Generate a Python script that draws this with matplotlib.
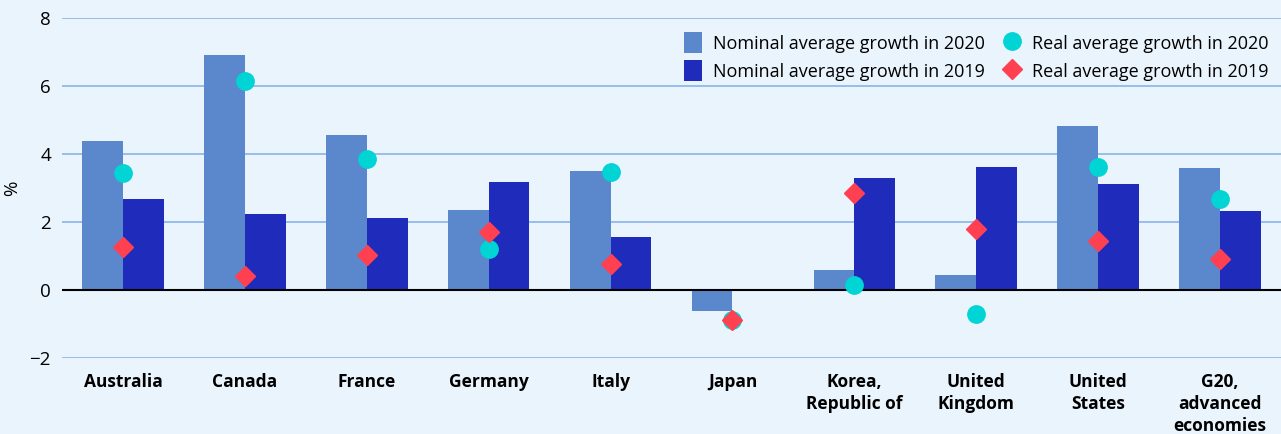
import matplotlib.pyplot as plt
import numpy as np

plt.rcParams['font.family'] = ['Open Sans', 'Noto Sans', 'DejaVu Sans']

categories = ["Australia", "Canada", "France", "Germany", "Italy", "Japan",
              "Korea,\nRepublic of", "United\nKingdom", "United\nStates",
              "G20,\nadvanced\neconomies"]
nominal_2020 = [4.38, 6.91, 4.56, 2.35, 3.50, -0.62, 0.59, 0.44, 4.82, 3.59]
nominal_2019 = [2.68, 2.24, 2.12, 3.18, 1.56, 0.0, 3.29, 3.62, 3.12, 2.32]
real_2020 = [3.44, 6.15, 3.85, 1.21, 3.47, -0.88, 0.15, -0.71, 3.62, 2.68]
real_2019 = [1.26, 0.41, 1.03, 1.71, 0.76, -0.88, 2.85, 1.79, 1.44, 0.91]

bg = "#eaf4fd"
fig = plt.figure(figsize=(12.81, 4.34), dpi=100, facecolor=bg)
ax = fig.add_axes([0.0484, 0.175, 0.9516, 0.7835], facecolor=bg)

x = np.arange(len(categories))
w = 0.335
b1 = ax.bar(x - w / 2, nominal_2020, w, color="#5b87cc", zorder=2)
b2 = ax.bar(x + w / 2, nominal_2019, w, color="#1f2bbb", zorder=2)
p1, = ax.plot(x, real_2020, "o", color="#00d4d4", markersize=12.5, zorder=3)
p2, = ax.plot(x, real_2019, "D", color="#ff4050", markersize=10, zorder=4)

ax.set_xlim(-0.5, len(categories) - 0.5)
ax.set_ylim(-2, 8)
ax.set_yticks([-2, 0, 2, 4, 6, 8])
ax.set_yticklabels(["\u22122", "0", "2", "4", "6", "8"], fontsize=13.5)
ax.yaxis.grid(True, color="#8ab4e8", linewidth=1.2, zorder=0)
ax.axhline(0, color="black", linewidth=1.5, zorder=2.5)
ax.set_xticks(x)
ax.set_xticklabels(categories, fontsize=12.5, fontweight="bold", va="top", linespacing=1.26)
ax.tick_params(axis="both", length=0, pad=8)
ax.tick_params(axis="x", pad=11)
for s in ax.spines.values():
    s.set_visible(False)
ax.set_ylabel("%", fontsize=13.5, labelpad=6)

ax.legend([b1, b2, p1, p2],
          ["Nominal average growth in 2020", "Nominal average growth in 2019",
           "Real average growth in 2020", "Real average growth in 2019"],
          loc="upper right", bbox_to_anchor=(1.0, 0.995), ncol=2, frameon=False, fontsize=13,
          handlelength=1.0, handleheight=1.4, handletextpad=0.6, columnspacing=1.0,
          labelspacing=0.4, borderaxespad=0.3)

fig.savefig("out.png", dpi=100, facecolor=bg)
